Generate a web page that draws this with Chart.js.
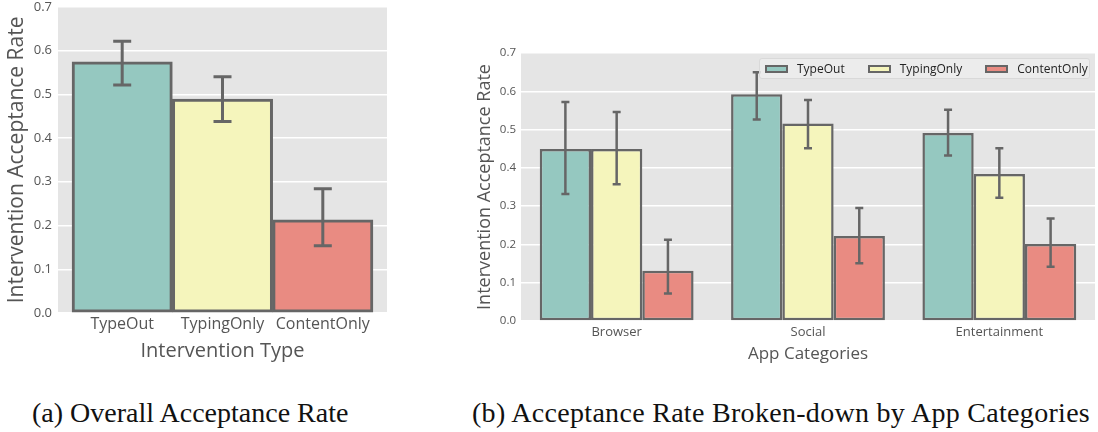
<!DOCTYPE html>
<html>
<head>
<meta charset="utf-8">
<script src="https://cdn.jsdelivr.net/npm/chart.js@4"></script>
<style>
  body { margin: 0; background: #fff; width: 1098px; height: 432px; position: relative; overflow: hidden; }
  #leftWrap { position: absolute; left: 0; top: -7px; width: 400px; height: 377px; }
  #rightWrap { position: absolute; left: 470px; top: 40px; width: 628px; height: 330px; }
  .caption { position: absolute; top: 397px; font-family: "Liberation Serif", serif; font-size: 28px; color: #111; white-space: nowrap; }
  #legend { position: absolute; left: 759px; top: 58px; width: 331px; height: 21px; box-sizing: border-box;
            background: rgba(238,238,238,0.8); border: 1px solid #d9d9d9; border-radius: 3px;
            display: flex; align-items: center; padding-left: 5px;
            font-family: "Open Sans", sans-serif; font-size: 12px; color: #222; }
  .item { display: flex; align-items: center; margin-right: 23px; }
  .patch { width: 23px; height: 8px; box-sizing: border-box; border: 2px solid #666; margin-right: 9px; }
</style>
</head>
<body>
<div id="leftWrap"><canvas id="overallChart"></canvas></div>
<div id="rightWrap"><canvas id="categoryChart"></canvas></div>
<div id="legend"></div>
<div class="caption" style="left:32px">(a) Overall Acceptance Rate</div>
<div class="caption" style="left:472px; letter-spacing:0.3px">(b) Acceptance Rate Broken-down by App Categories</div>

<script>
// chart data
const interventionTypes = ['TypeOut', 'TypingOnly', 'ContentOnly'];
const overallRate = [0.574, 0.489, 0.213];
const overallLow = [0.521, 0.438, 0.154];
const overallHigh = [0.621, 0.540, 0.284];

const appCategories = ['Browser', 'Social', 'Entertainment'];
const typeOutRate = [0.449, 0.592, 0.491];
const typeOutLow = [0.332, 0.526, 0.432];
const typeOutHigh = [0.572, 0.650, 0.552];
const typingOnlyRate = [0.449, 0.516, 0.384];
const typingOnlyLow = [0.357, 0.451, 0.322];
const typingOnlyHigh = [0.546, 0.577, 0.451];
const contentOnlyRate = [0.131, 0.222, 0.201];
const contentOnlyLow = [0.072, 0.151, 0.142];
const contentOnlyHigh = [0.212, 0.295, 0.268];

const yTicks = [0, 0.1, 0.2, 0.3, 0.4, 0.5, 0.6, 0.7];

const barColors = ['#95C8C0', '#F5F5BC', '#E98B82'];
const edgeColor = '#666666';

// grey plot background
const plotBackground = {
    id: 'plotBackground',
    beforeDraw(chart) {
        const { ctx, chartArea } = chart;
        ctx.save();
        ctx.fillStyle = '#E5E5E5';
        ctx.fillRect(chartArea.left, chartArea.top, chartArea.right - chartArea.left, chartArea.bottom - chartArea.top);
        ctx.restore();
    }
};

// error bars from the low/high arrays stored on each dataset
const errorBars = {
    id: 'errorBars',
    afterDatasetsDraw(chart, args, opts) {
        const { ctx } = chart;
        const yScale = chart.scales.y;
        ctx.save();
        ctx.strokeStyle = edgeColor;
        ctx.lineWidth = opts.lineWidth;
        chart.data.datasets.forEach((ds, di) => {
            const meta = chart.getDatasetMeta(di);
            meta.data.forEach((bar, i) => {
                const yLow = yScale.getPixelForValue(ds.errLow[i]);
                const yHigh = yScale.getPixelForValue(ds.errHigh[i]);
                const half = opts.capWidth / 2;
                ctx.beginPath();
                ctx.moveTo(bar.x, yLow);
                ctx.lineTo(bar.x, yHigh);
                ctx.moveTo(bar.x - half, yLow);
                ctx.lineTo(bar.x + half, yLow);
                ctx.moveTo(bar.x - half, yHigh);
                ctx.lineTo(bar.x + half, yHigh);
                ctx.stroke();
            });
        });
        ctx.restore();
    }
};

function yAxis(width, tickSize, titleSize, titlePad, tickPad) {
    return {
        min: 0,
        max: 0.7,
        afterBuildTicks: scale => { scale.ticks = yTicks.map(v => ({ value: v })); },
        afterFit: scale => { scale.width = width; },
        grid: { color: '#FFFFFF', lineWidth: 1.5, drawTicks: false },
        border: { display: false },
        ticks: {
            padding: tickPad,
            color: '#555',
            font: { family: 'Open Sans', size: tickSize },
            callback: v => v.toFixed(1)
        },
        title: {
            display: true,
            text: 'Intervention Acceptance Rate',
            color: '#555',
            font: { family: 'Open Sans', size: titleSize },
            padding: { top: titlePad, bottom: 0 }
        }
    };
}

// (a) overall
new Chart(document.getElementById('overallChart'), {
    type: 'bar',
    data: {
        datasets: [{
            data: overallRate.map((v, i) => ({ x: i, y: v })),
            errLow: overallLow,
            errHigh: overallHigh,
            backgroundColor: barColors,
            borderColor: edgeColor,
            borderWidth: 3,
            borderSkipped: false,
            categoryPercentage: 1,
            barPercentage: 1
        }]
    },
    options: {
        responsive: true,
        maintainAspectRatio: false,
        animation: false,
        layout: { padding: { top: 0, right: 13, left: 0, bottom: 7 } },
        plugins: {
            legend: { display: false },
            tooltip: { enabled: false },
            errorBars: { lineWidth: 3, capWidth: 18 }
        },
        scales: {
            x: {
                type: 'linear',
                offset: false,
                bounds: 'data',
                min: -0.64,
                max: 2.64,
                afterBuildTicks: scale => { scale.ticks = interventionTypes.map((_, i) => ({ value: i })); },
                afterFit: scale => { scale.height = 50; },
                grid: { display: false, drawTicks: false },
                border: { display: false },
                ticks: {
                    padding: 2,
                    color: '#555',
                    font: { family: 'Open Sans', size: 16 },
                    callback: v => interventionTypes[v]
                },
                title: {
                    display: true,
                    text: 'Intervention Type',
                    color: '#555',
                    font: { family: 'Open Sans', size: 20 },
                    padding: { top: 0, bottom: 0 }
                }
            },
            y: yAxis(58, 13, 21, 4, 6)
        }
    },
    plugins: [plotBackground, errorBars]
});

// (b) by app category
const seriesNames = ['TypeOut', 'TypingOnly', 'ContentOnly'];
const seriesRates = [typeOutRate, typingOnlyRate, contentOnlyRate];
const seriesLows = [typeOutLow, typingOnlyLow, contentOnlyLow];
const seriesHighs = [typeOutHigh, typingOnlyHigh, contentOnlyHigh];

new Chart(document.getElementById('categoryChart'), {
    type: 'bar',
    data: {
        labels: appCategories,
        datasets: seriesNames.map((name, s) => ({
            label: name,
            data: seriesRates[s],
            errLow: seriesLows[s],
            errHigh: seriesHighs[s],
            backgroundColor: barColors[s],
            borderColor: edgeColor,
            borderWidth: 2.5,
            borderSkipped: false,
            categoryPercentage: 0.804,
            barPercentage: 1
        }))
    },
    options: {
        responsive: true,
        maintainAspectRatio: false,
        animation: false,
        layout: { padding: { top: 13, right: 3, left: 0, bottom: 6 } },
        plugins: {
            legend: { display: false },
            tooltip: { enabled: false },
            errorBars: { lineWidth: 2.5, capWidth: 8 }
        },
        scales: {
            x: {
                afterFit: scale => { scale.height = 43; },
                grid: { display: false, drawTicks: false },
                border: { display: false },
                ticks: {
                    padding: 3,
                    color: '#555',
                    font: { family: 'Open Sans', size: 13 }
                },
                title: {
                    display: true,
                    text: 'App Categories',
                    color: '#555',
                    font: { family: 'Open Sans', size: 17 },
                    padding: { top: 0, bottom: 0 }
                }
            },
            y: yAxis(51, 11.5, 18, 4, 5)
        }
    },
    plugins: [plotBackground, errorBars]
});

// legend drawn inside the plot, like the original
const legend = document.getElementById('legend');
seriesNames.forEach((name, s) => {
    const item = document.createElement('div');
    item.className = 'item';
    item.innerHTML = `<span class="patch" style="background:${barColors[s]}"></span><span>${name}</span>`;
    legend.appendChild(item);
});
</script>
</body>
</html>
